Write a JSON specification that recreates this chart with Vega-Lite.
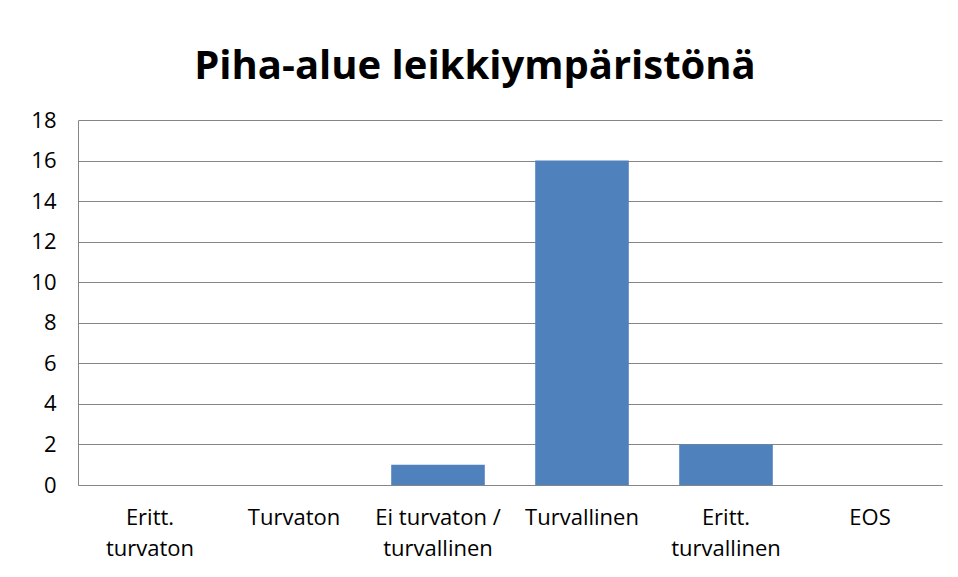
{
  "$schema": "https://vega.github.io/schema/vega-lite/v6.json",
  "autosize": {"type": "none"},
  "width": 864,
  "height": 365,
  "padding": {"left": 78, "top": 120, "right": 16, "bottom": 92},
  "background": "white",
  "title": {
    "text": "Piha-alue leikkiympäristönä",
    "font": "Open Sans",
    "fontSize": 40,
    "fontWeight": "bold",
    "color": "#000000",
    "anchor": "middle",
    "dx": -35,
    "offset": 22
  },
  "data": {
    "values": [
      {"luokka": "Eritt.\nturvaton", "lkm": 0},
      {"luokka": "Turvaton", "lkm": 0},
      {"luokka": "Ei turvaton /\nturvallinen", "lkm": 1},
      {"luokka": "Turvallinen", "lkm": 16},
      {"luokka": "Eritt.\nturvallinen", "lkm": 2},
      {"luokka": "EOS", "lkm": 0}
    ]
  },
  "mark": {"type": "bar", "color": "#4F81BD"},
  "encoding": {
    "x": {
      "field": "luokka",
      "type": "nominal",
      "sort": null,
      "title": null,
      "scale": {"paddingInner": 0.35, "paddingOuter": 0.175},
      "axis": {
        "labelExpr": "split(datum.label, '\\n')",
        "labelAngle": 0,
        "labelFont": "Open Sans",
        "labelFontSize": 22,
        "labelColor": "#000000",
        "labelPadding": 22,
        "labelLineHeight": 31,
        "labelBaseline": "top",
        "ticks": false,
        "domainColor": "#868686",
        "labelLimit": 200
      }
    },
    "y": {
      "field": "lkm",
      "type": "quantitative",
      "title": null,
      "scale": {"domain": [0, 18], "nice": false},
      "axis": {
        "values": [0, 2, 4, 6, 8, 10, 12, 14, 16, 18],
        "labelFont": "Open Sans",
        "labelFontSize": 22,
        "labelColor": "#000000",
        "labelPadding": 22,
        "ticks": false,
        "domainColor": "#868686",
        "gridColor": "#868686",
        "gridOpacity": 1
      }
    }
  },
  "config": {
    "view": {"stroke": null}
  }
}
